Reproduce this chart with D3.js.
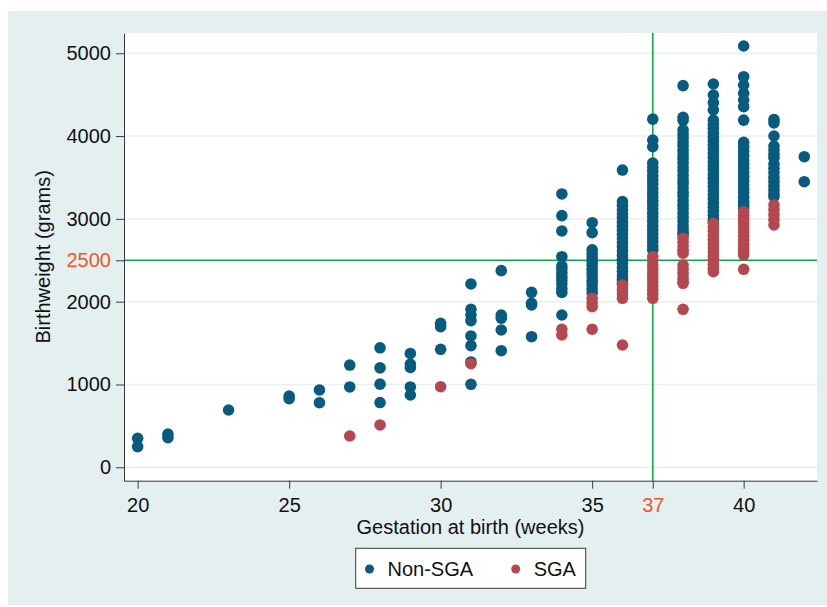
<!DOCTYPE html>
<html>
<head>
<meta charset="utf-8">
<script src="https://cdn.jsdelivr.net/npm/d3@7"></script>
<style>
  body { margin: 0; background: #ffffff; }
  svg { display: block; font-family: Arial, "Liberation Sans", Helvetica, sans-serif; }
</style>
</head>
<body>
<div id="chart"></div>
<script>
// Chart size and plot region
const width = 827;
const height = 607;
const plot = {left: 124, right: 817, top: 33, bottom: 480.7};

// Gestation weeks that have births
const weeks = [20, 21, 23, 25, 26, 27, 28, 29, 30, 31, 32, 33, 34, 35, 36, 37, 38, 39, 40, 41, 42];

// Birthweights (grams) of non-SGA babies, one list per week above
const nonSgaWeights = [
  [350, 250],
  [402, 358],
  [692],
  [861, 828],
  [934, 780],
  [1235, 970],
  [1443, 1201, 1004, 782],
  [1375, 1246, 1205, 970, 873],
  [1739, 1698, 1425],
  [2214, 1908, 1839, 1771, 1586, 1469, 1272, 1002],
  [2375, 1839, 1800, 1658, 1408],
  [2113, 1980, 1960, 1577],
  [3301, 3039, 2854, 2543, 2432, 2395, 2348, 2301, 2262, 2214, 2158, 2111, 1839],
  [2954, 2834, 2627, 2581, 2532, 2484, 2440, 2392, 2345, 2301, 2248, 2203, 2150, 2104],
  [3590, 3208, 3164, 3113, 3062, 3015, 2958, 2912, 2863, 2815, 2762, 2714, 2665, 2611,
   2562, 2514, 2463, 2412, 2366, 2311, 2265, 2224],
  [4205, 3953, 3872, 3675, 3622, 3574, 3521, 3470, 3423, 3368, 3320, 3271, 3218, 3172,
   3121, 3068, 3022, 2970, 2921, 2868, 2822, 2771, 2720, 2668, 2624],
  [4609, 4227, 4190, 4074, 4025, 3977, 3924, 3876, 3825, 3772, 3726, 3675, 3622, 3578,
   3524, 3471, 3425, 3372, 3320, 3274, 3222, 3170, 3123, 3070, 3021, 2972, 2920, 2871,
   2830, 2806],
  [4629, 4496, 4403, 4315, 4193, 4142, 4094, 4040, 3990, 3942, 3890, 3843, 3791, 3742,
   3690, 3641, 3592, 3540, 3492, 3443, 3391, 3342, 3290, 3243, 3190, 3141, 3092, 3040,
   2992, 2966],
  [5088, 4717, 4617, 4517, 4436, 4355, 4193, 3925, 3872, 3820, 3765, 3710, 3662, 3614,
   3561, 3512, 3465, 3410, 3362, 3313, 3262, 3210, 3165, 3128],
  [4201, 4160, 4001, 3880, 3831, 3780, 3738, 3662, 3611, 3560, 3503, 3452, 3400, 3351,
   3302, 3268],
  [3751, 3449]
];

// Birthweights (grams) of SGA babies, one list per week above
const sgaWeights = [
  [], [], [], [], [],
  [378],
  [511],
  [],
  [973],
  [1251],
  [],
  [],
  [1667, 1598],
  [2041, 1990, 1940, 1667],
  [2202, 2150, 2095, 2041, 1477],
  [2543, 2494, 2442, 2395, 2341, 2293, 2244, 2192, 2141, 2093, 2041],
  [2766, 2718, 2668, 2620, 2585, 2443, 2394, 2342, 2290, 2245, 2222, 1908],
  [2947, 2898, 2850, 2798, 2752, 2700, 2651, 2603, 2550, 2502, 2453, 2404, 2362],
  [3087, 3040, 2991, 2942, 2890, 2840, 2792, 2741, 2690, 2642, 2598, 2563, 2391],
  [3168, 3110, 3050, 2990, 2926],
  []
];

// Axis ticks and reference lines
const xTicks = [20, 25, 30, 35, 37, 40];
const yTicks = [0, 1000, 2000, 2500, 3000, 4000, 5000];
const yGrid = [0, 1000, 2000, 3000, 4000, 5000];
const refWeek = 37;
const refWeight = 2500;

const blue = "#075b7f";
const red = "#b5484f";
const green = "#14a44d";
const orange = "#f0552a";
const bg = "#e4f0f0";

const svg = d3.select("#chart")
  .append("svg")
  .attr("width", width)
  .attr("height", height);

// Outer background and plot region
svg.append("rect")
  .attr("x", 8).attr("y", 11)
  .attr("width", width - 8).attr("height", 594)
  .attr("fill", bg);

svg.append("rect")
  .attr("x", plot.left).attr("y", plot.top)
  .attr("width", plot.right - plot.left).attr("height", plot.bottom - plot.top)
  .attr("fill", "#ffffff");

// Scales
const x = d3.scaleLinear()
  .domain([19.55, 42.42])
  .range([plot.left, plot.right]);

const y = d3.scaleLinear()
  .domain([-162, 5245])
  .range([plot.bottom, plot.top]);

// Horizontal gridlines
svg.append("g")
  .selectAll("line")
  .data(yGrid)
  .join("line")
  .attr("x1", plot.left).attr("x2", plot.right)
  .attr("y1", d => y(d)).attr("y2", d => y(d))
  .attr("stroke", "#e6f0f2")
  .attr("stroke-width", 1.5);

// Reference lines at 37 weeks and 2500 grams
svg.append("line")
  .attr("x1", x(refWeek)).attr("x2", x(refWeek))
  .attr("y1", plot.top).attr("y2", plot.bottom)
  .attr("stroke", green).attr("stroke-width", 1.6);

svg.append("line")
  .attr("x1", plot.left).attr("x2", plot.right)
  .attr("y1", y(refWeight)).attr("y2", y(refWeight))
  .attr("stroke", green).attr("stroke-width", 1.6);

// Points
const toPoints = lists => weeks.flatMap((w, i) => lists[i].map(v => ({week: w, weight: v})));

svg.append("g")
  .selectAll("circle")
  .data(toPoints(nonSgaWeights))
  .join("circle")
  .attr("cx", d => x(d.week))
  .attr("cy", d => y(d.weight))
  .attr("r", 5.8)
  .attr("fill", blue);

svg.append("g")
  .selectAll("circle")
  .data(toPoints(sgaWeights))
  .join("circle")
  .attr("cx", d => x(d.week))
  .attr("cy", d => y(d.weight))
  .attr("r", 5.8)
  .attr("fill", red);

// Axes
const yAxis = svg.append("g")
  .attr("transform", `translate(${plot.left},0)`)
  .call(d3.axisLeft(y).tickValues(yTicks).tickFormat(d3.format("d"))
    .tickSize(8).tickSizeOuter(0).tickPadding(5));

const xAxis = svg.append("g")
  .attr("transform", `translate(0,${plot.bottom})`)
  .call(d3.axisBottom(x).tickValues(xTicks).tickFormat(d3.format("d"))
    .tickSize(8).tickSizeOuter(0).tickPadding(9));

[xAxis, yAxis].forEach(g => {
  g.attr("font-size", "20px").attr("font-family", null);
  g.select(".domain").attr("stroke", "#3a3a3a");
  g.selectAll(".tick line").attr("stroke", "#3a3a3a");
  g.selectAll(".tick text").attr("fill", "#111");
});

yAxis.selectAll(".tick text").filter(d => d === refWeight).attr("fill", orange);
xAxis.selectAll(".tick text").filter(d => d === refWeek).attr("fill", orange);

// Axis titles
svg.append("text")
  .attr("x", (plot.left + plot.right) / 2)
  .attr("y", 534)
  .attr("text-anchor", "middle")
  .attr("font-size", "20px")
  .attr("fill", "#111")
  .text("Gestation at birth (weeks)");

svg.append("text")
  .attr("transform", `translate(50,${(plot.top + plot.bottom) / 2}) rotate(-90)`)
  .attr("text-anchor", "middle")
  .attr("font-size", "20px")
  .attr("fill", "#111")
  .text("Birthweight (grams)");

// Legend
const legend = svg.append("g");
legend.append("rect")
  .attr("x", 355.7).attr("y", 548.3)
  .attr("width", 230).attr("height", 40)
  .attr("fill", "#ffffff")
  .attr("stroke", "#3a3a3a")
  .attr("stroke-width", 1);

const legendItems = [
  {label: "Non-SGA", color: blue, cx: 369.5},
  {label: "SGA", color: red, cx: 515.7}
];

legend.selectAll("circle")
  .data(legendItems)
  .join("circle")
  .attr("cx", d => d.cx)
  .attr("cy", 569)
  .attr("r", 4.5)
  .attr("fill", d => d.color);

legend.selectAll("text")
  .data(legendItems)
  .join("text")
  .attr("x", d => d.cx + 18)
  .attr("y", 576)
  .attr("font-size", "20px")
  .attr("fill", "#111")
  .text(d => d.label);
</script>
</body>
</html>
